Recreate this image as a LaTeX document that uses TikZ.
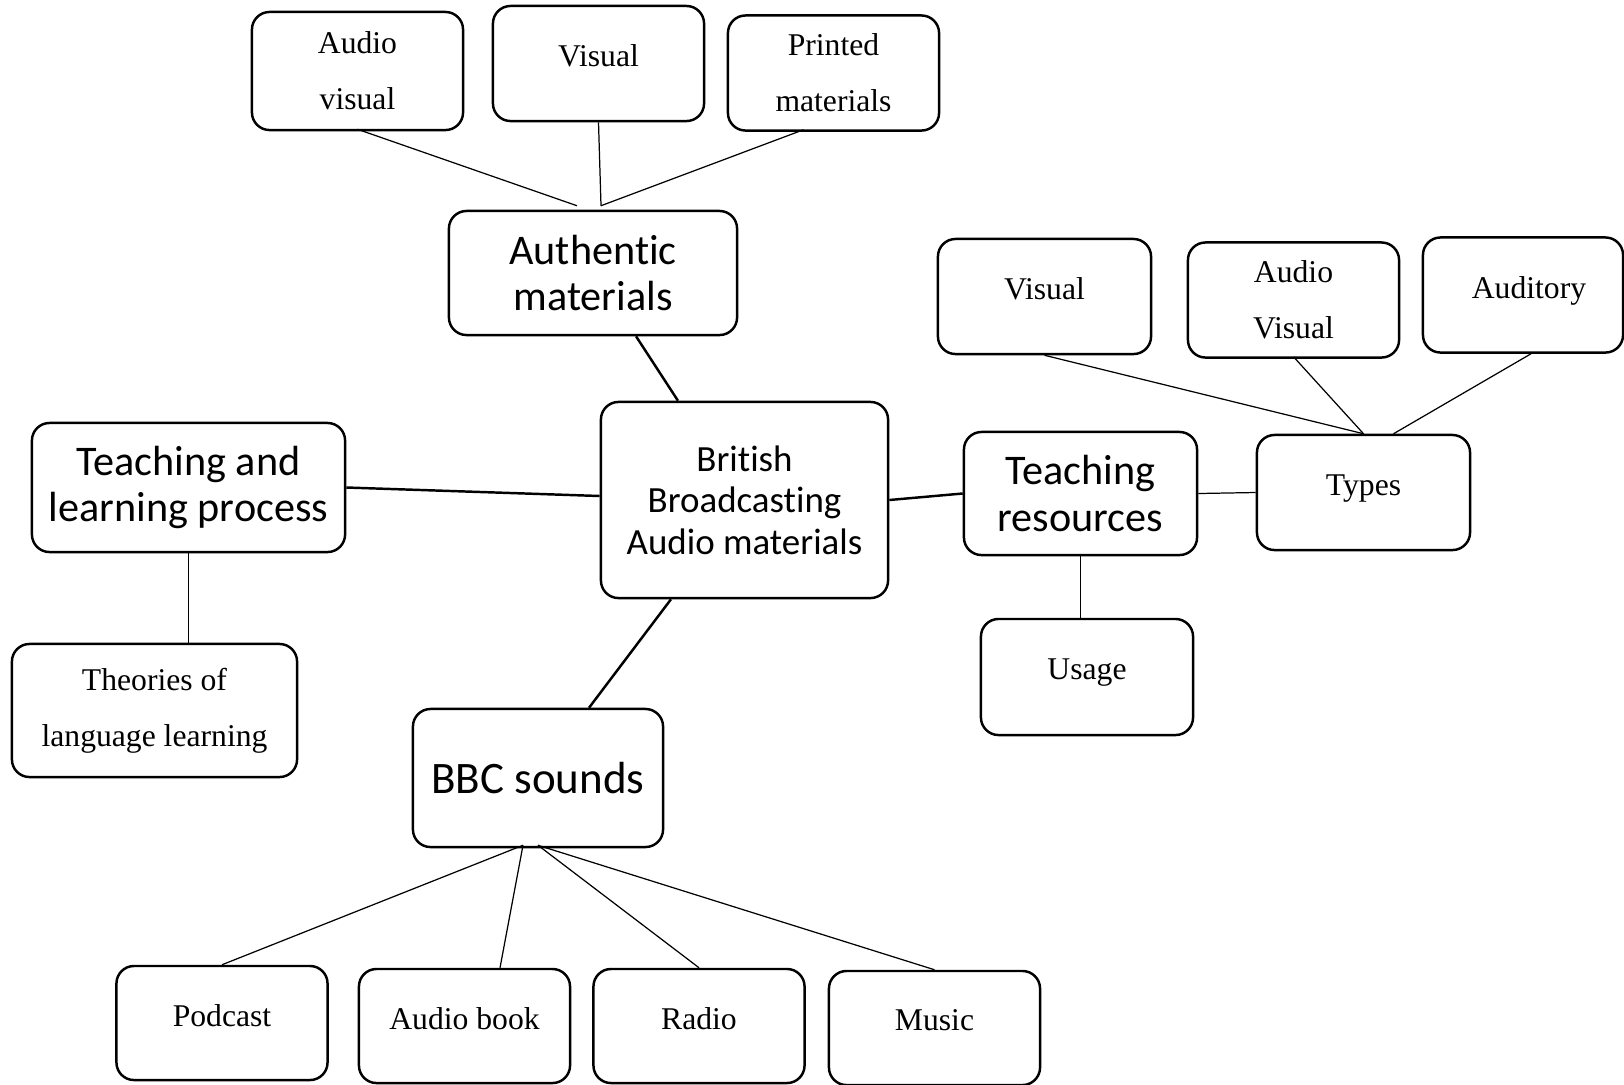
\documentclass[tikz,border=0pt]{standalone}
\usepackage{fontspec}
\setmainfont{Liberation Serif}
\newfontfamily\calibri[Ligatures=NoCommon]{Carlito}

\begin{document}
\begin{tikzpicture}[x=0.01cm, y=-0.01cm,
	box/.style={draw, line width=0.7pt, rounded corners=5pt, align=center, inner sep=0pt},
	leaf/.style={box, font=\fontsize{9}{15.9}\selectfont, minimum width=2.11cm, minimum height=1.15cm},
	raised/.style={text depth=0.15cm},
	topic/.style={box, font=\calibri\fontsize{12}{13.2}\selectfont},
	twig/.style={line width=0.35pt},
	branch/.style={line width=0.7pt}]
	\useasboundingbox (0,0) rectangle (1624,1084);

	\node [topic, minimum width=2.87cm, minimum height=1.96cm, font=\calibri\fontsize{10.5}{11.8}\selectfont] (hub) at (744.5,500) {British\\Broadcasting\\Audio materials};
	\node [topic, minimum width=2.88cm, minimum height=1.24cm] (auth) at (593,273) {Authentic\\materials};
	\node [topic, minimum width=3.13cm, minimum height=1.29cm] (process) at (188.5,487.5) {Teaching and\\learning process};
	\node [topic, minimum width=2.5cm, minimum height=1.38cm, font=\calibri\fontsize{12.8}{14}\selectfont] (sounds) at (538,778) {BBC sounds};
	\node [topic, minimum width=2.33cm, minimum height=1.23cm] (resources) at (1080.5,493.5) {Teaching\\resources};

	\node [leaf, minimum height=1.18cm] (audiovis) at (357.5,71) {Audio\\visual};
	\node [leaf, raised] (visual) at (598.5,63.5) {Visual};
	\node [leaf] (printed) at (833.5,73) {Printed\\materials};

	\node [leaf, minimum width=2.85cm, minimum height=1.33cm] (theories) at (154.5,710.5) {Theories of\\language learning};

	\node [leaf, raised, minimum width=2.13cm] (types) at (1363.5,492.5) {Types};
	\node [leaf, raised, minimum width=2.12cm, minimum height=1.16cm] (usage) at (1087,677) {Usage};
	\node [leaf, raised, minimum width=2.13cm] (visualr) at (1044.5,296.5) {Visual};
	\node [leaf] (audiovisr) at (1293.5,300) {Audio\\Visual};
	\node [leaf, raised, minimum width=2cm] (auditory) at (1523,295) {\hspace*{0.12cm}Auditory};

	\foreach \name/\x/\y/\text in {podcast/222/1023/Podcast, book/464.5/1026/Audio book, radio/699/1026/Radio, music/934.5/1028/Music}
	{
		\node [leaf, raised, minimum height=1.14cm] (\name) at (\x,\y) {\text};
	}

	\begin{scope}[branch]
		\draw ([xshift=0.43cm]auth.south) -- ([xshift=-0.665cm]hub.north);
		\draw (process.east) -- ([yshift=0.04cm]hub.west);
		\draw ([xshift=-0.735cm]hub.south) -- ([xshift=0.51cm]sounds.north);
		\draw (hub.east) -- (resources.west);
	\end{scope}

	\begin{scope}[twig]
		\draw ([yshift=0.02cm]audiovis.south) -- ([xshift=-0.16cm, yshift=0.04cm]auth.north);
		\draw (visual.south) -- ([xshift=0.08cm, yshift=0.04cm]auth.north);
		\draw ([xshift=-0.3cm, yshift=0.02cm]printed.south) -- ([xshift=0.08cm, yshift=0.04cm]auth.north);

		\draw (process.south) -- (process.south |- theories.north);

		\draw (resources.east) -- (types.west);
		\draw (resources.south) -- (resources.south |- usage.north);
		\draw (visualr.south) -- (types.north);
		\draw ([yshift=0.02cm]audiovisr.south) -- (types.north);
		\draw ([xshift=0.08cm]auditory.south) -- ([xshift=0.3cm]types.north);

		\draw (podcast.north) -- ([xshift=-0.15cm, yshift=0.03cm]sounds.south);
		\draw ([xshift=0.355cm]book.north) -- ([xshift=-0.15cm, yshift=0.03cm]sounds.south);
		\draw (radio.north) -- ([yshift=0.03cm]sounds.south);
		\draw (music.north) -- ([yshift=0.03cm]sounds.south);
	\end{scope}
\end{tikzpicture}
\end{document}
